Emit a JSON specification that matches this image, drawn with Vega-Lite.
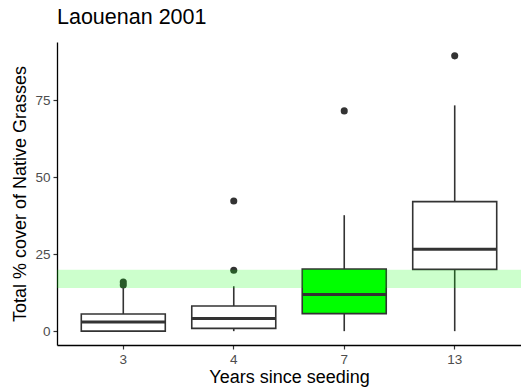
{
  "$schema": "https://vega.github.io/schema/vega-lite/v6.json",
  "width": 464,
  "height": 303,
  "autosize": {"type": "none"},
  "padding": {"left": 57, "top": 42, "right": 0, "bottom": 42},
  "background": "white",
  "title": {
    "text": "Laouenan 2001",
    "anchor": "start",
    "frame": "group",
    "baseline": "alphabetic",
    "offset": -3,
    "fontSize": 21.5,
    "fontWeight": "normal",
    "font": "Liberation Sans",
    "color": "black"
  },
  "config": {
    "view": {"stroke": null},
    "font": "Liberation Sans",
    "axis": {
      "grid": false,
      "domainColor": "black",
      "domainWidth": 1.3,
      "tickColor": "#333333",
      "tickSize": 4,
      "tickWidth": 1.2,
      "labelColor": "#4D4D4D",
      "labelFontSize": 13.5,
      "labelFont": "Liberation Sans",
      "titleFont": "Liberation Sans",
      "titleFontSize": 18,
      "titleFontWeight": "normal",
      "titleColor": "black",
      "labelPadding": 3
    }
  },
  "datasets": {
    "boxes": [
      {"years": "3", "lower": 0, "q1": 0, "median": 3.0, "q3": 5.6, "upper": 14},
      {"years": "4", "lower": 0, "q1": 0.9, "median": 4.1, "q3": 8.2, "upper": 14.6},
      {"years": "7", "lower": 0, "q1": 5.7, "median": 11.9, "q3": 20.2, "upper": 37.7},
      {"years": "13", "lower": 0, "q1": 20.1, "median": 26.6, "q3": 42.1, "upper": 73.4}
    ],
    "outliers": [
      {"years": "3", "cover": 15},
      {"years": "3", "cover": 16},
      {"years": "4", "cover": 19.8},
      {"years": "4", "cover": 42.3},
      {"years": "7", "cover": 71.6},
      {"years": "13", "cover": 89.5}
    ],
    "target": [{"low": 14, "high": 20}]
  },
  "layer": [
    {
      "data": {"name": "boxes"},
      "mark": {"type": "rule", "color": "#333333", "strokeWidth": 1.6},
      "encoding": {
        "x": {
          "field": "years",
          "type": "ordinal",
          "sort": ["3", "4", "7", "13"],
          "scale": {"type": "band", "paddingInner": 0, "paddingOuter": 0.1},
          "axis": {"title": "Years since seeding", "labelAngle": 0, "titlePadding": 3}
        },
        "y": {
          "field": "lower",
          "type": "quantitative",
          "scale": {"domain": [-4.5, 94], "nice": false, "zero": false},
          "axis": {"title": "Total % cover of Native Grasses", "values": [0, 25, 50, 75], "titlePadding": 5}
        },
        "y2": {"field": "upper"}
      }
    },
    {
      "data": {"name": "boxes"},
      "mark": {"type": "bar", "size": 84, "stroke": "#333333", "strokeWidth": 1.6},
      "encoding": {
        "x": {"field": "years", "type": "ordinal", "sort": ["3", "4", "7", "13"]},
        "y": {"field": "q1", "type": "quantitative"},
        "y2": {"field": "q3"},
        "fill": {
          "condition": {"test": "datum.years === '7'", "value": "#00FF00"},
          "value": "white"
        }
      }
    },
    {
      "data": {"name": "boxes"},
      "mark": {"type": "tick", "size": 84, "thickness": 3, "color": "#333333", "opacity": 1},
      "encoding": {
        "x": {"field": "years", "type": "ordinal", "sort": ["3", "4", "7", "13"]},
        "y": {"field": "median", "type": "quantitative"}
      }
    },
    {
      "data": {"name": "outliers"},
      "mark": {"type": "point", "filled": true, "size": 50, "color": "#333333", "opacity": 1},
      "encoding": {
        "x": {"field": "years", "type": "ordinal", "sort": ["3", "4", "7", "13"]},
        "y": {"field": "cover", "type": "quantitative"}
      }
    },
    {
      "data": {"name": "target"},
      "mark": {"type": "rect", "color": "#00FF00", "opacity": 0.2},
      "encoding": {
        "y": {"field": "low", "type": "quantitative"},
        "y2": {"field": "high"}
      }
    }
  ]
}
